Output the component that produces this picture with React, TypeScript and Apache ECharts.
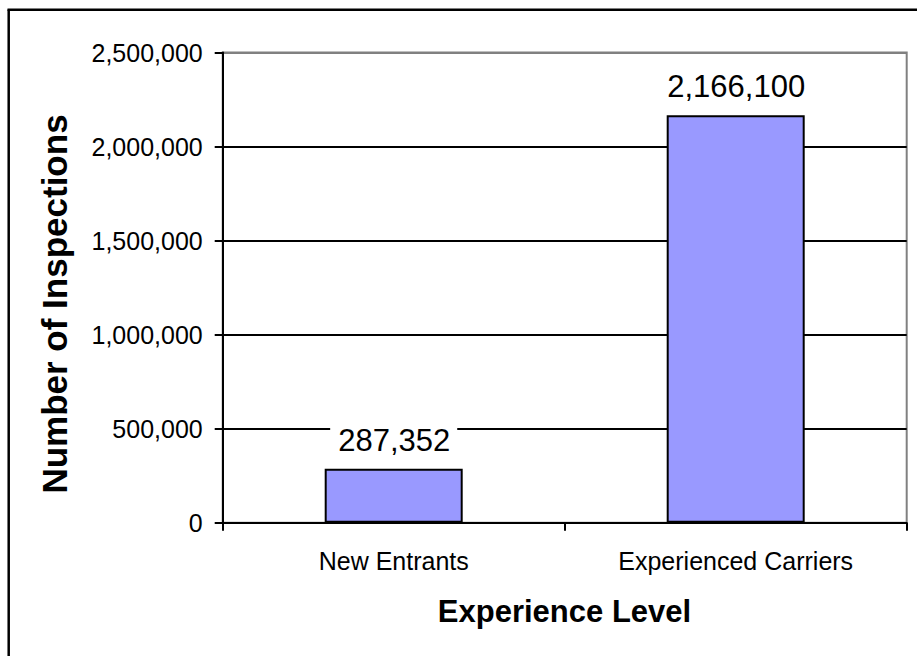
import React, { useEffect, useRef } from "react";
import * as echarts from "echarts";

const categories: string[] = ["New Entrants", "Experienced Carriers"];
const inspections: number[] = [287352, 2166100];
const yTicks: number[] = [0, 500000, 1000000, 1500000, 2000000, 2500000];
const xAxisTitle = "Experience Level";
const yAxisTitle = "Number of Inspections";

const FONT = "'Liberation Sans', Arial, Helvetica, sans-serif";
const fmt = (v: number) => v.toLocaleString("en-US");

export default function App() {
  const ref = useRef<HTMLDivElement>(null);
  useEffect(() => {
    if (!ref.current) return;
    const chart = echarts.init(ref.current, undefined, { renderer: "svg" });
    chart.setOption({
      animation: false,
      backgroundColor: "#ffffff",
      textStyle: { fontFamily: FONT },
      grid: {
        left: 222.7,
        top: 52.5,
        right: 10.3,
        bottom: 133.3,
        show: true,
        borderColor: "#808080",
        borderWidth: 2,
        backgroundColor: "transparent",
      },
      xAxis: {
        type: "category",
        data: categories,
        axisLine: { show: true, lineStyle: { color: "#000", width: 2 } },
        axisTick: { show: true, length: 8, lineStyle: { color: "#000", width: 2 } },
        axisLabel: { color: "#000", fontSize: 25, fontFamily: FONT, margin: 26 },
        splitLine: { show: false },
      },
      yAxis: {
        type: "value",
        min: yTicks[0],
        max: yTicks[yTicks.length - 1],
        interval: yTicks[1] - yTicks[0],
        axisLine: { show: true, lineStyle: { color: "#000", width: 2 } },
        axisTick: { show: true, length: 8, lineStyle: { color: "#000", width: 2 } },
        axisLabel: {
          color: "#000",
          fontSize: 25,
          fontFamily: FONT,
          margin: 20,
          formatter: (v: number) => fmt(v),
        },
        splitLine: {
          show: true,
          lineStyle: {
            color: ["#000", "#000", "#000", "#000", "#000", "#808080"],
            width: 2,
          },
        },
      },
      series: [
        {
          type: "bar",
          data: inspections,
          barWidth: 138,
          itemStyle: { color: "#9999FF", borderColor: "#000", borderWidth: 2 },
          label: {
            show: true,
            position: "top",
            distance: 10,
            color: "#000",
            fontSize: 31,
            fontFamily: FONT,
            backgroundColor: "#ffffff",
            padding: [2, 7, 3, 8],
            formatter: (p: any) => fmt(p.value),
          },
        },
      ],
      graphic: [
        {
          type: "line",
          shape: { x1: 8.7, y1: 9.5, x2: 8.7, y2: 700 },
          style: { stroke: "#000", lineWidth: 2.5 },
        },
        {
          type: "line",
          shape: { x1: 7.5, y1: 9.7, x2: 1000, y2: 9.7 },
          style: { stroke: "#000", lineWidth: 2.5 },
        },
        {
          type: "text",
          x: 54,
          y: 304,
          rotation: Math.PI / 2,
          style: {
            text: yAxisTitle,
            fontSize: 35,
            fontWeight: "bold",
            fontFamily: FONT,
            fill: "#000",
            align: "center",
            verticalAlign: "middle",
          },
        },
        {
          type: "text",
          x: 564.5,
          y: 611,
          style: {
            text: xAxisTitle,
            fontSize: 31,
            fontWeight: "bold",
            fontFamily: FONT,
            fill: "#000",
            align: "center",
            verticalAlign: "middle",
          },
        },
      ],
    });
    return () => chart.dispose();
  }, []);
  return (
    <div
      ref={ref}
      style={{ position: "fixed", left: 0, top: 0, width: 917, height: 656, background: "#fff" }}
    />
  );
}
